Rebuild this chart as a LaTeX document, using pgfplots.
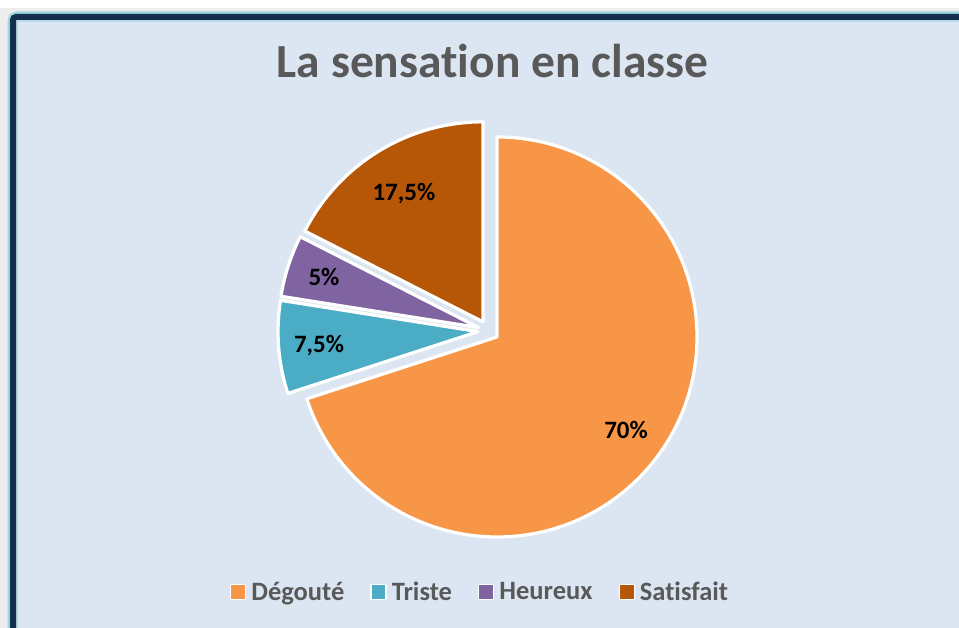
\documentclass[border=0pt]{standalone}
\usepackage{pgfplots}
\pgfplotsset{compat=1.18}
\usepackage{pgfplotstable}
\usetikzlibrary{calc}
\usepackage{fontspec}
\setmainfont{Carlito}[Ligatures={NoCommon}]
\definecolor{cDeg}{HTML}{F79646}
\definecolor{cTri}{HTML}{4BACC6}
\definecolor{cHeu}{HTML}{8064A2}
\definecolor{cSat}{HTML}{B65708}
\definecolor{txtgray}{HTML}{595959}
\definecolor{bgfill}{HTML}{DCE6F2}
\definecolor{framecol}{HTML}{142F4E}
\definecolor{glowcol}{HTML}{9ED3E0}
\definecolor{outside}{HTML}{EDEDED}

\pgfplotstableread{
label value color lr
Dégouté 70 cDeg 170
Triste 7.5 cTri 170
Heureux 5 cHeu 173
Satisfait 17.5 cSat 162
}\piedata

\newcommand\labfont{\fontsize{25}{30}\selectfont\bfseries}

\begin{document}
\def\cum{0}%
\pgfplotsforeachungrouped \i in {0,1,2,3}{%
  \pgfplotstablegetelem{\i}{value}\of\piedata
  \let\pieV\pgfplotsretval
  \pgfmathsetmacro\pieS{90-3.6*\cum}%
  \pgfmathsetmacro\pieE{90-3.6*(\cum+\pieV)}%
  \pgfmathsetmacro\pieM{(\pieS+\pieE)/2}%
  \pgfmathsetmacro\cum{\cum+\pieV}%
  \expandafter\let\csname sa\i\endcsname\pieS
  \expandafter\let\csname ea\i\endcsname\pieE
  \expandafter\let\csname ma\i\endcsname\pieM
  \expandafter\let\csname val\i\endcsname\pieV
  \pgfplotstablegetelem{\i}{lr}\of\piedata
  \expandafter\let\csname lr\i\endcsname\pgfplotsretval
  \pgfplotstablegetelem{\i}{label}\of\piedata
  \expandafter\let\csname lab\i\endcsname\pgfplotsretval
  \pgfplotstablegetelem{\i}{color}\of\piedata
  \edef\tmp{\noexpand\colorlet{slice\i}{\pgfplotsretval}}\tmp
}%
\begin{tikzpicture}
\useasboundingbox (0pt,0pt) rectangle (959pt,628pt);
\clip (0pt,0pt) rectangle (959pt,628pt);
\begin{scope}[x=1pt,y=1pt]
  \fill[outside] (0,0) rectangle (959,628);
  \fill[white] (0,620) rectangle (959,628);
  \draw[glowcol, line width=11pt, rounded corners=4pt] (13,-30) -- (13,611) -- (990,611);
  \fill[bgfill] (16,-30) rectangle (990,608);
  \draw[glowcol!60!bgfill, line width=2pt] (17,-30) -- (17,607) -- (990,607);
  \draw[framecol, line width=6pt, rounded corners=3pt] (13,-30) -- (13,611) -- (990,611);
\end{scope}
\begin{axis}[
  at={(0pt,0pt)}, anchor=south west,
  x=1pt, y=1pt, xmin=0, xmax=959, ymin=0, ymax=628,
  hide axis, clip=false,
  title={La sensation en classe},
  title style={at={(axis description cs:0.5136,0.8678)}, anchor=base,
    font=\fontsize{47.5}{57}\selectfont\bfseries, text=txtgray},
  legend image code/.code={\draw[#1, draw=white, line width=1.4pt] (0pt,-7.5pt) rectangle (15pt,7.5pt);},
  legend columns=4,
  legend style={at={(axis description cs:0.4995,0.0573)}, anchor=center,
    draw=none, fill=none, text=txtgray,
    font=\fontsize{26.5}{30}\selectfont\bfseries,
    nodes={inner xsep=0pt, inner ysep=1pt},
    /tikz/every odd column/.append style={column sep=5pt},
    /tikz/every even column/.append style={column sep=26pt}},
]
\pgfplotsinvokeforeach{0,1,2,3}{%
  \edef\tmp{\noexpand\fill[slice#1, draw=white, line width=3.2pt, line join=round,
      shift={(\csname ma#1\endcsname:10.5pt)}]
    (axis cs:488.5,297.2) -- ++(\csname sa#1\endcsname:200pt)
    arc[start angle=\csname sa#1\endcsname, end angle=\csname ea#1\endcsname, radius=200pt] -- cycle;}%
  \tmp
}
\pgfplotsinvokeforeach{0,1,2,3}{%
  \edef\tmp{\noexpand\node[font=\noexpand\labfont, text=black, anchor=base, yshift=-8pt]
    at ($(axis cs:488.5,297.2)+(\csname ma#1\endcsname:\csname lr#1\endcsname pt)$)
    {\noexpand\pgfmathprintnumber[use comma, assume math mode=true]{\csname val#1\endcsname}\noexpand\%};}%
  \tmp
}
\pgfplotsinvokeforeach{0,1,2,3}{%
  \addlegendimage{fill=slice#1}
  \addlegendentryexpanded{\csname lab#1\endcsname}
}
\end{axis}
\end{tikzpicture}
\end{document}
